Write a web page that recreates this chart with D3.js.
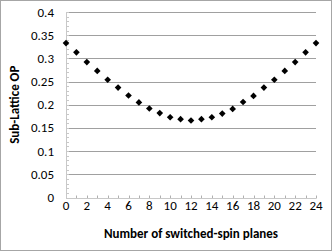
<!DOCTYPE html>
<html>
<head>
<meta charset="utf-8">
<script src="https://cdn.jsdelivr.net/npm/d3@7"></script>
<style>
    body { margin: 0; background: #fff; }
    svg { display: block; font-family: Carlito, "Open Sans", "Liberation Sans", sans-serif; }
</style>
</head>
<body>
<svg id="chart" width="332" height="251"></svg>
<script>
// 切换自旋平面数
var planes = [0, 1, 2, 3, 4, 5, 6, 7, 8, 9, 10, 11, 12, 13, 14, 15, 16, 17, 18, 19, 20, 21, 22, 23, 24];
// 子晶格序参量
var subLatticeOP = [0.333, 0.313, 0.292, 0.273, 0.254, 0.237, 0.220, 0.205, 0.192, 0.182, 0.173, 0.169, 0.166,
    0.169, 0.173, 0.181, 0.191, 0.206, 0.219, 0.237, 0.254, 0.273, 0.292, 0.313, 0.333];
var xTicks = [0, 2, 4, 6, 8, 10, 12, 14, 16, 18, 20, 22, 24];
var yTicks = [0, 0.05, 0.1, 0.15, 0.2, 0.25, 0.3, 0.35, 0.4];

function drawChart(svg) {
    var left = 66, right = 316, top = 12, bottom = 197.5;

    var x = d3.scaleLinear().domain([0, 24]).range([left, right]);
    var y = d3.scaleLinear().domain([0, 0.4]).range([bottom, top]);

    // 外框
    svg.append("rect")
        .attr("x", 0.5).attr("y", 0.5)
        .attr("width", 331).attr("height", 250)
        .attr("fill", "none")
        .attr("stroke", "#a6a6a6");

    // 网格线
    svg.append("g")
        .selectAll("line")
        .data(yTicks.slice(1))
        .enter()
        .append("line")
        .attr("x1", left).attr("x2", right)
        .attr("y1", function (d) { return Math.round(y(d)) + 0.5; })
        .attr("y2", function (d) { return Math.round(y(d)) + 0.5; })
        .attr("stroke", "#a0a0a0");

    // 次刻度
    var minorY = d3.range(0, 0.4001, 0.01);
    svg.append("g")
        .selectAll("line")
        .data(minorY)
        .enter()
        .append("line")
        .attr("x1", left).attr("x2", left + 3)
        .attr("y1", function (d) { return Math.round(y(d)) + 0.5; })
        .attr("y2", function (d) { return Math.round(y(d)) + 0.5; })
        .attr("stroke", "#c8c8c8");

    svg.append("g")
        .selectAll("line")
        .data(planes)
        .enter()
        .append("line")
        .attr("x1", function (d) { return Math.round(x(d)) + 0.5; })
        .attr("x2", function (d) { return Math.round(x(d)) + 0.5; })
        .attr("y1", Math.round(bottom) + 0.5).attr("y2", Math.round(bottom) - 2.5)
        .attr("stroke", "#b0b0b0");

    // 坐标轴线
    svg.append("line")
        .attr("x1", left + 0.5).attr("x2", left + 0.5)
        .attr("y1", top).attr("y2", Math.round(bottom) + 0.5)
        .attr("stroke", "#c8c8c8");
    svg.append("line")
        .attr("x1", left).attr("x2", right)
        .attr("y1", Math.round(bottom) + 0.5).attr("y2", Math.round(bottom) + 0.5)
        .attr("stroke", "#c8c8c8");

    // 刻度文字
    svg.append("g")
        .selectAll("text")
        .data(yTicks)
        .enter()
        .append("text")
        .attr("x", 54)
        .attr("y", function (d) { return y(d); })
        .attr("dy", "0.35em")
        .attr("text-anchor", "end")
        .attr("font-size", 13)
        .attr("fill", "#000")
        .text(function (d) { return d3.format("")(+d.toFixed(2)); });

    svg.append("g")
        .selectAll("text")
        .data(xTicks)
        .enter()
        .append("text")
        .attr("x", function (d) { return x(d); })
        .attr("y", 210)
        .attr("text-anchor", "middle")
        .attr("font-size", 13)
        .text(function (d) { return d; });

    // 标题
    svg.append("text")
        .attr("x", (left + right) / 2)
        .attr("y", 237.5)
        .attr("text-anchor", "middle")
        .attr("font-size", 13)
        .attr("font-weight", "bold")
        .text("Number of switched-spin planes");

    svg.append("text")
        .attr("transform", "translate(19," + ((top + bottom) / 2) + ") rotate(-90)")
        .attr("text-anchor", "middle")
        .attr("font-size", 13)
        .attr("font-weight", "bold")
        .text("Sub-Lattice OP");

    // 数据点
    var marker = d3.symbol().type(d3.symbolSquare).size(22);
    svg.append("g")
        .selectAll("path")
        .data(planes)
        .enter()
        .append("path")
        .attr("transform", function (d, i) {
            return "translate(" + x(d) + "," + y(subLatticeOP[i]) + ") rotate(45)";
        })
        .attr("d", marker)
        .attr("fill", "#000");
}

drawChart(d3.select("#chart"));
</script>
</body>
</html>
